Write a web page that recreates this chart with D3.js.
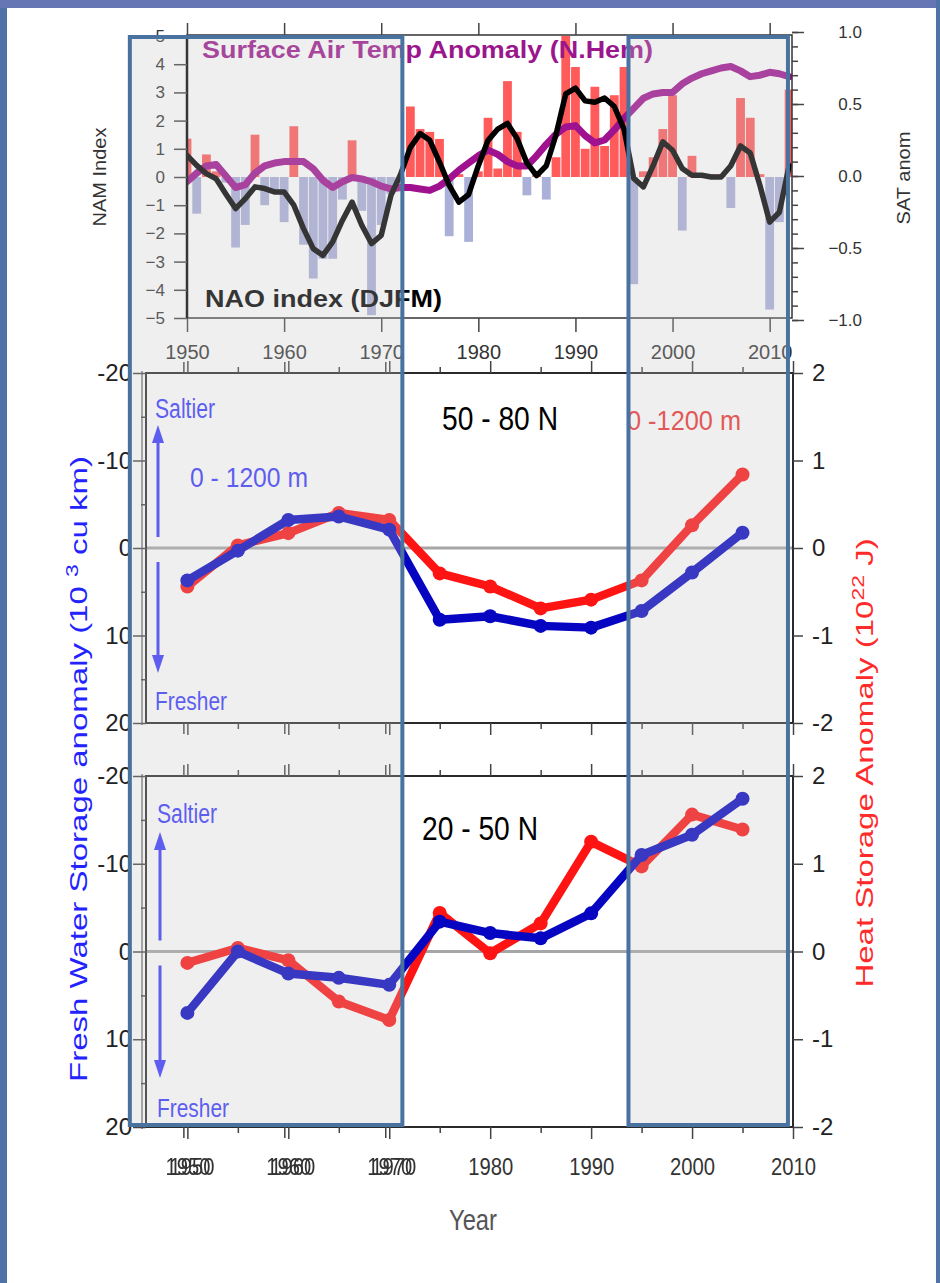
<!DOCTYPE html>
<html>
<head>
<meta charset="utf-8">
<script src="https://cdnjs.cloudflare.com/ajax/libs/d3/7.8.5/d3.min.js"></script>
<style>
  body { margin: 0; background: #fff; }
  svg { display: block; font-family: "Liberation Sans", Arial, Helvetica, sans-serif; }
</style>
</head>
<body>
<script>
(function() {

  /* ---- data ---- */

  // top panel: yearly NAO index (bars), its smoothed curve and N.Hem SAT anomaly
  var naoYears = d3.range(1950, 2013);
  var naoIndex = [1.36, -1.3, 0.8, 0.2, -0.2, -2.5, -1.7, 1.5, -1.0, -0.5,
                  -1.6, 1.8, -2.4, -3.6, -2.9, -2.9, -0.8, 1.3, -1.2, -4.9,
                  -1.7, -0.6, -0.3, 2.5, 1.7, 1.6, 1.35, -2.1, 0.1, -2.3,
                  0.2, 2.1, 0.3, 3.4, 1.6, -0.65, 0.1, -0.8, 0.7, 5.0,
                  3.9, 1.0, 3.2, 1.1, 2.9, 3.9, -3.8, 0.2, 0.7, 1.7,
                  2.9, -1.9, 0.75, 0.1, 0.1, 0.1, -1.1, 2.8, 2.1, 0.1,
                  -4.7, -1.6, 3.1];
  var naoSmooth = [0.77, 0.41, 0.12, -0.06, -0.6, -1.12, -0.77, -0.35, -0.41, -0.53,
                   -0.53, -1.0, -1.83, -2.54, -2.78, -2.3, -1.54, -0.89, -1.71, -2.36,
                   -2.07, -0.65, 0.1, 1.05, 1.54, 1.3, 0.53, -0.3, -0.89, -0.62,
                   0.4, 1.3, 1.7, 1.9, 1.36, 0.5, 0.05, 0.4, 1.5, 2.95,
                   3.15, 2.7, 2.65, 2.8, 2.5, 1.7, -0.05, -0.35, 0.4, 1.25,
                   0.95, 0.3, 0.06, 0.06, 0.0, 0.0, 0.4, 1.1, 0.85, -0.3,
                   -1.6, -1.25, 0.4];
  var satAnom = [-0.04, 0.02, 0.07, 0.08, 0.0, -0.08, -0.06, 0.02, 0.07, 0.09,
                 0.1, 0.1, 0.1, 0.05, -0.03, -0.08, -0.04, -0.01, -0.02, -0.04,
                 -0.07, -0.09, -0.08, -0.08, -0.09, -0.1, -0.07, -0.02, 0.04, 0.09,
                 0.14, 0.18, 0.15, 0.1, 0.07, 0.07, 0.14, 0.22, 0.29, 0.34,
                 0.35, 0.28, 0.23, 0.25, 0.32, 0.4, 0.47, 0.54, 0.57, 0.58,
                 0.58, 0.64, 0.68, 0.71, 0.73, 0.75, 0.76, 0.73, 0.69, 0.7,
                 0.72, 0.71, 0.69];

  // lower panels: pentadal storage anomalies, 0-1200 m
  var pentads = [1950, 1955, 1960, 1965, 1970, 1975, 1980, 1985, 1990, 1995, 2000, 2005];
  var freshNorth = [3.7, 0.3, -3.2, -3.6, -2.1, 8.2, 7.8, 8.9, 9.1, 7.2, 2.8, -1.75];
  var heatNorth = [-0.44, 0.03, 0.17, 0.4, 0.32, -0.29, -0.44, -0.69, -0.59, -0.37, 0.26, 0.84];
  var freshSouth = [7.0, 0.0, 2.5, 3.0, 3.8, -3.4, -2.1, -1.5, -4.35, -11.0, -13.3, -17.4];
  var heatSouth = [-0.13, 0.04, -0.1, -0.57, -0.78, 0.44, -0.02, 0.32, 1.25, 0.97, 1.56, 1.39];

  // highlighted periods (years on the lower time axis)
  var periods = [[1944.3, 1971.3], [1993.7, 2009.5]];

  // ticks
  var decadeTicks = [1950, 1960, 1970, 1980, 1990, 2000, 2010];
  var halfDecadeTicks = [1955, 1965, 1975, 1985, 1995, 2005];
  var doubledTicks = [1950, 1960, 1970];
  var namTicks = [-5, -4, -3, -2, -1, 0, 1, 2, 3, 4, 5];
  var satTicks = [-1, -0.5, 0, 0.5, 1];
  var freshTicks = [-20, -10, 0, 10, 20];
  var freshMinor = [-15, -5, 5, 15];
  var heatTicks = [-2, -1, 0, 1, 2];


  var svg = d3.select("body").append("svg")
      .attr("width", 940)
      .attr("height", 1283);

  svg.append("rect").attr("width", 940).attr("height", 1283).attr("fill", "#fff");

  // the early year labels were printed twice, slightly offset
  var dbl = svg.append("defs").append("filter")
      .attr("id", "doubled")
      .attr("x", "-10%").attr("width", "130%");
  dbl.append("feOffset").attr("in", "SourceGraphic").attr("dx", 3.5).attr("result", "shifted");
  var merge = dbl.append("feMerge");
  merge.append("feMergeNode").attr("in", "shifted");
  merge.append("feMergeNode").attr("in", "SourceGraphic");

  // tidy up what d3.axis draws
  function styleAxis(sel, size, color) {
    sel.attr("font-family", null).attr("font-size", size);
    sel.select(".domain").remove();
    sel.selectAll(".tick line").attr("stroke", "#444").attr("stroke-width", 1.5);
    sel.selectAll(".tick text").attr("fill", color || "#333");
    return sel;
  }


  /*
   *  T O P   P A N E L :  NAO index and SAT anomaly
   */
  function topPanel() {
    var x = d3.scaleLinear().domain([1950, 2012.3]).range([187, 792]),
        yNam = d3.scaleLinear().domain([-5, 5]).range([318, 36]),
        ySat = d3.scaleLinear().domain([-1, 1]).range([320, 32]);

    var g = svg.append("g").attr("class", "top");

    g.append("clipPath").attr("id", "clipTop")
      .append("rect").attr("x", 187).attr("y", 35).attr("width", 605).attr("height", 283);

    var plot = g.append("g").attr("clip-path", "url(#clipTop)");

    plot.selectAll(".bar")
        .data(naoYears)
      .enter().append("rect")
        .attr("class", "bar")
        .attr("x", function(d) { return x(d) - 4.4; })
        .attr("width", 8.8)
        .attr("y", function(d, i) { return yNam(Math.max(0, naoIndex[i])); })
        .attr("height", function(d, i) { return Math.abs(yNam(naoIndex[i]) - yNam(0)); })
        .attr("fill", function(d, i) { return naoIndex[i] >= 0 ? "#ff5b5b" : "#abb0d9"; });

    var satLine = d3.line()
        .x(function(d, i) { return x(naoYears[i]); })
        .y(function(d) { return ySat(d); });
    plot.append("path")
        .datum(satAnom)
        .attr("d", satLine)
        .attr("fill", "none")
        .attr("stroke", "#a01190")
        .attr("stroke-width", 7)
        .attr("stroke-linejoin", "round")
        .attr("stroke-linecap", "round");

    var naoLine = d3.line()
        .x(function(d, i) { return x(naoYears[i]); })
        .y(function(d) { return yNam(d); });
    plot.append("path")
        .datum(naoSmooth)
        .attr("d", naoLine)
        .attr("fill", "none")
        .attr("stroke", "#000")
        .attr("stroke-width", 5.5)
        .attr("stroke-linejoin", "round")
        .attr("stroke-linecap", "round");

    // frame
    g.append("rect")
        .attr("x", 187).attr("y", 35).attr("width", 605).attr("height", 283)
        .attr("fill", "none").attr("stroke", "#333").attr("stroke-width", 1.5);
    g.append("line")
        .attr("x1", 187).attr("x2", 187).attr("y1", 35).attr("y2", 318)
        .attr("stroke", "#000").attr("stroke-width", 2.5);

    // axes
    styleAxis(g.append("g")
        .attr("transform", "translate(187,0)")
        .call(d3.axisLeft(yNam).tickValues(namTicks).tickSize(13).tickPadding(9).tickFormat(d3.format("d"))), 17);

    var right = styleAxis(g.append("g")
        .attr("transform", "translate(792,0)")
        .call(d3.axisRight(ySat).tickValues(satTicks).tickSize(12).tickPadding(10).tickFormat(d3.format(".1f"))), 17);
    right.selectAll(".tick text").attr("text-anchor", "end").attr("x", 70);

    styleAxis(g.append("g")
        .attr("transform", "translate(792,0)")
        .call(d3.axisRight(ySat).ticks(20).tickSize(6).tickFormat("")), 10);

    styleAxis(g.append("g")
        .attr("transform", "translate(0,318)")
        .call(d3.axisBottom(x).tickValues(decadeTicks).tickSize(14).tickPadding(13).tickFormat(d3.format("d"))), 20);

    styleAxis(g.append("g")
        .attr("transform", "translate(0,35)")
        .call(d3.axisTop(x).tickValues(decadeTicks).tickSize(12).tickFormat("")), 10);

    // labels
    g.append("text")
        .attr("x", 202).attr("y", 58)
        .attr("font-weight", "bold").attr("font-size", 23)
        .attr("fill", "#9b168d")
        .attr("textLength", 451).attr("lengthAdjust", "spacingAndGlyphs")
        .text("Surface Air Temp Anomaly (N.Hem)");

    g.append("text")
        .attr("x", 205).attr("y", 307)
        .attr("font-weight", "bold").attr("font-size", 23)
        .attr("fill", "#000")
        .attr("textLength", 237).attr("lengthAdjust", "spacingAndGlyphs")
        .text("NAO index (DJFM)");

    g.append("text")
        .attr("transform", "translate(106,177)rotate(-90)")
        .attr("text-anchor", "middle")
        .attr("font-size", 18).attr("fill", "#333")
        .attr("textLength", 99).attr("lengthAdjust", "spacingAndGlyphs")
        .text("NAM Index");

    g.append("text")
        .attr("transform", "translate(910,178)rotate(-90)")
        .attr("text-anchor", "middle")
        .attr("font-size", 18).attr("fill", "#333")
        .attr("textLength", 93).attr("lengthAdjust", "spacingAndGlyphs")
        .text("SAT anom");
  }


  /*
   *  L O W E R   P A N E L S :  fresh water and heat storage
   */
  var xLow = d3.scaleLinear().domain([1946, 2010]).range([147, 793]);

  function storagePanel(y0, y1, fresh, heat, region, regionX, regionY, opts) {
    var yFresh = d3.scaleLinear().domain([-20, 20]).range([y0, y1]),
        yHeat = d3.scaleLinear().domain([-2, 2]).range([y1, y0]);

    var g = svg.append("g").attr("class", "storage");

    // zero line
    g.append("line")
        .attr("x1", xLow(1946)).attr("x2", xLow(2010))
        .attr("y1", yFresh(0)).attr("y2", yFresh(0))
        .attr("stroke", "#a6a6a6").attr("stroke-width", 3);

    // frame, with the doubled left edge
    g.append("rect")
        .attr("x", 146).attr("y", y0).attr("width", 647).attr("height", y1 - y0)
        .attr("fill", "none").attr("stroke", "#2a2a2a").attr("stroke-width", 2);
    g.append("line")
        .attr("x1", 142).attr("x2", 142).attr("y1", y0 - 2).attr("y2", y1 + 2)
        .attr("stroke", "#777").attr("stroke-width", 1.5);

    // axes
    styleAxis(g.append("g")
        .attr("transform", "translate(146,0)")
        .call(d3.axisLeft(yFresh).tickValues(freshTicks).tickSize(13).tickPadding(1).tickFormat(String)), 24, "#222");
    styleAxis(g.append("g")
        .attr("transform", "translate(146,0)")
        .call(d3.axisLeft(yFresh).tickValues(freshMinor).tickSize(5).tickFormat("")), 10);
    styleAxis(g.append("g")
        .attr("transform", "translate(793,0)")
        .call(d3.axisRight(yHeat).tickValues(heatTicks).tickSize(10).tickPadding(9).tickFormat(String)), 24, "#222");

    [["top", y0, d3.axisTop], ["bottom", y1, d3.axisBottom]].forEach(function(s) {
      styleAxis(g.append("g")
          .attr("transform", "translate(0," + s[1] + ")")
          .call(s[2](xLow).tickValues(decadeTicks).tickSize(12).tickFormat("")), 10);
      styleAxis(g.append("g")
          .attr("transform", "translate(0," + s[1] + ")")
          .call(s[2](xLow).tickValues(halfDecadeTicks).tickSize(6).tickFormat("")), 10);
      // the early decade ticks are printed twice, slightly offset
      styleAxis(g.append("g")
          .attr("transform", "translate(-4," + s[1] + ")")
          .call(s[2](xLow).tickValues(doubledTicks).tickSize(11).tickFormat("")), 10);
    });

    // series: heat (red, right axis) under fresh water (blue, left axis)
    var series = [
      {values: heat, y: yHeat, color: "#ff1414"},
      {values: fresh, y: yFresh, color: "#0505c2"}
    ];
    series.forEach(function(s) {
      var line = d3.line()
          .x(function(d, i) { return xLow(pentads[i]); })
          .y(function(d) { return s.y(d); });
      g.append("path")
          .datum(s.values)
          .attr("d", line)
          .attr("fill", "none")
          .attr("stroke", s.color)
          .attr("stroke-width", 8.5)
          .attr("stroke-linejoin", "round");
      g.selectAll(null)
          .data(s.values)
        .enter().append("circle")
          .attr("cx", function(d, i) { return xLow(pentads[i]); })
          .attr("cy", function(d) { return s.y(d); })
          .attr("r", 7)
          .attr("fill", s.color);
    });

    // saltier / fresher arrows
    var blue = "#3838ff";
    function arrow(x, from, to) {
      var dir = to < from ? 1 : -1;
      g.append("line")
          .attr("x1", x).attr("x2", x)
          .attr("y1", from).attr("y2", to + dir * 14)
          .attr("stroke", blue).attr("stroke-width", 3);
      g.append("path")
          .attr("d", "M" + x + "," + to + "L" + (x - 6) + "," + (to + dir * 18) + "L" + (x + 6) + "," + (to + dir * 18) + "Z")
          .attr("fill", blue);
    }
    arrow(opts.arrowX, yFresh(0) - 11, opts.upTip);
    arrow(opts.arrowX, yFresh(0) + 14, opts.downTip);

    function label(txt, x, y, size, len, color) {
      g.append("text")
          .attr("x", x).attr("y", y)
          .attr("font-size", size).attr("fill", color)
          .attr("textLength", len).attr("lengthAdjust", "spacingAndGlyphs")
          .text(txt);
    }
    label("Saltier", opts.arrowX - 3, opts.saltY, 27, 60, blue);
    label("Fresher", opts.arrowX - 3, opts.freshY, 26, 72, blue);
    label(region, regionX, regionY, 34, 116, "#000");
    if (opts.depthLabels) {
      label("0 - 1200 m", 190, 487, 28, 118, blue);
      label("0 -1200 m", 627, 430, 28, 114, "#ee3030");
    }
  }


  topPanel();

  storagePanel(373, 723, freshNorth, heatNorth, "50 - 80 N", 442, 430,
      {arrowX: 158, upTip: 425, downTip: 673, saltY: 418, freshY: 710, depthLabels: true});
  storagePanel(776, 1127, freshSouth, heatSouth, "20 - 50 N", 422, 840,
      {arrowX: 160, upTip: 832, downTip: 1078, saltY: 823, freshY: 1117, depthLabels: false});

  // shared year labels under the bottom panel
  var years = styleAxis(svg.append("g")
      .attr("transform", "translate(0,1127)")
      .call(d3.axisBottom(xLow).tickValues(decadeTicks).tickSize(0).tickPadding(31).tickFormat(d3.format("d"))), 24, "#333");
  years.selectAll(".tick text")
      .attr("textLength", 45).attr("lengthAdjust", "spacingAndGlyphs")
      .attr("filter", function(d) { return doubledTicks.indexOf(d) >= 0 ? "url(#doubled)" : null; });

  svg.append("text")
      .attr("x", 473).attr("y", 1230)
      .attr("text-anchor", "middle")
      .attr("font-size", 30).attr("fill", "#555")
      .attr("textLength", 48).attr("lengthAdjust", "spacingAndGlyphs")
      .text("Year");

  // rotated axis titles of the lower panels
  var fwTitle = svg.append("text")
      .attr("transform", "translate(87,769)scale(0.72,1)rotate(-90)")
      .attr("text-anchor", "middle")
      .attr("font-size", 33).attr("fill", "#2323ff");
  fwTitle.append("tspan").text("Fresh Water Storage anomaly (10 ");
  fwTitle.append("tspan").attr("dy", -13).attr("font-size", 23).text("3");
  fwTitle.append("tspan").attr("dy", 13).text(" cu km)");

  var hsTitle = svg.append("text")
      .attr("transform", "translate(873,763)scale(0.72,1)rotate(-90)")
      .attr("text-anchor", "middle")
      .attr("font-size", 33).attr("fill", "#ff2a2a");
  hsTitle.append("tspan").text("Heat Storage Anomaly (10");
  hsTitle.append("tspan").attr("dy", -13).attr("font-size", 23).text("22");
  hsTitle.append("tspan").attr("dy", 13).text(" J)");


  /*
   *  H I G H L I G H T E D   P E R I O D S
   */
  var boxes = svg.append("g").attr("class", "periods");
  boxes.selectAll(".tint")
      .data(periods)
    .enter().append("rect")
      .attr("class", "tint")
      .attr("x", function(d) { return xLow(d[0]); })
      .attr("width", function(d) { return xLow(d[1]) - xLow(d[0]); })
      .attr("y", 37).attr("height", 1088)
      .attr("fill", "rgb(196,196,196)").attr("fill-opacity", 0.27);
  boxes.selectAll(".edge")
      .data(periods)
    .enter().append("rect")
      .attr("class", "edge")
      .attr("x", function(d) { return xLow(d[0]); })
      .attr("width", function(d) { return xLow(d[1]) - xLow(d[0]); })
      .attr("y", 37).attr("height", 1088)
      .attr("fill", "none").attr("stroke", "#4a72a1").attr("stroke-width", 4);

  // page border
  svg.append("rect").attr("x", 0).attr("y", 0).attr("width", 7).attr("height", 1283).attr("fill", "#4f73a7");
  svg.append("rect").attr("x", 0).attr("y", 0).attr("width", 940).attr("height", 8).attr("fill", "#6676b4");
  svg.append("rect").attr("x", 936).attr("y", 0).attr("width", 4).attr("height", 1283).attr("fill", "#4f73a7");

})();
</script>
</body>
</html>
